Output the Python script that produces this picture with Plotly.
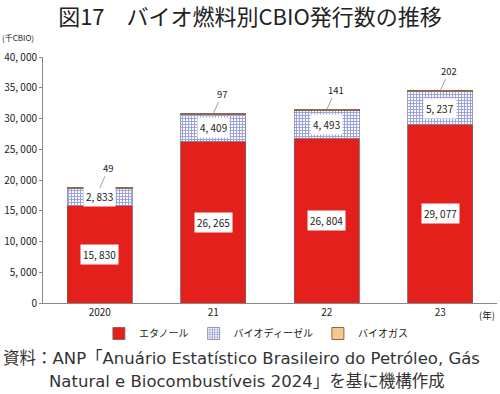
import plotly.graph_objects as go

years = ["2020", "21", "22", "23"]
ethanol = [15830, 26265, 26804, 29077]
biodiesel = [2833, 4409, 4493, 5237]
biogas = [49, 97, 141, 202]
series_names = ["エタノール", "バイオディーゼル", "バイオガス"]
y_ticks = [0, 5000, 10000, 15000, 20000, 25000, 30000, 35000, 40000]

def fmt(v):
    return f"{v:,}".replace(",", ", ")

xpos = list(range(len(years)))
FONT = "Noto Sans CJK JP"
SRC_FONT = "DejaVu Sans, Noto Sans CJK JP"
fig = go.Figure()
fig.add_trace(go.Bar(x=xpos, y=ethanol, name=series_names[0], width=0.57,
                     marker=dict(color="#E3201B", line=dict(color="#7a5a50", width=0.8))))
fig.add_trace(go.Bar(x=xpos, y=biodiesel, name=series_names[1], width=0.57,
                     marker=dict(color="white", line=dict(color="#8a8a9a", width=0.8),
                                 pattern=dict(shape="+", fgcolor="#3a4ab8", bgcolor="white",
                                              size=3, solidity=0.6))))
fig.add_trace(go.Bar(x=xpos, y=biogas, name=series_names[2], width=0.57,
                     marker=dict(color="#F6C98A", line=dict(color="#8a6a50", width=1))))

ann = []
for i in xpos:
    e, b, g = ethanol[i], biodiesel[i], biogas[i]
    ann.append(dict(x=i, y=e / 2, text=fmt(e), showarrow=False, bgcolor="white",
                    borderpad=2, font=dict(size=10, color="#222", family=FONT)))
    ann.append(dict(x=i, y=e + b / 2, text=fmt(b), showarrow=False, bgcolor="white",
                    borderpad=2, font=dict(size=10, color="#222", family=FONT)))
    ann.append(dict(x=i, y=e + b + g, text=fmt(g), showarrow=True, arrowhead=0,
                    arrowwidth=0.8, arrowcolor="#888", ax=9, ay=-20,
                    font=dict(size=9.5, color="#222", family=FONT)))

ann.append(dict(xref="paper", yref="paper", x=0.0, y=1.0, xshift=-43, yshift=12,
                xanchor="left", yanchor="bottom", text="(千CBIO)", showarrow=False,
                font=dict(size=8, color="#222", family=FONT)))
ann.append(dict(xref="paper", yref="paper", x=1.0, y=0, xshift=0, yshift=-12,
                xanchor="right", yanchor="middle", text="(年)", showarrow=False,
                font=dict(size=9.5, color="#222", family=FONT)))
ann.append(dict(xref="paper", yref="paper", x=0, y=0, xshift=-42, yshift=-55,
                xanchor="left", yanchor="middle",
                text="資料：ANP「Anuário Estatístico Brasileiro do Petróleo, Gás",
                showarrow=False, font=dict(size=16.5, color="#333", family=SRC_FONT)))
ann.append(dict(xref="paper", yref="paper", x=0, y=0, xshift=4, yshift=-78,
                xanchor="left", yanchor="middle",
                text="Natural e Biocombustíveis 2024」を基に機構作成",
                showarrow=False, font=dict(size=16.5, color="#333", family=SRC_FONT)))

fig.update_layout(
    width=500, height=394, barmode="stack",
    paper_bgcolor="white", plot_bgcolor="white",
    margin=dict(l=43, r=3, t=57, b=91, autoexpand=False),
    title=dict(text="図17　バイオ燃料別CBIO発行数の推移", x=0.5, xanchor="center",
               y=0.955, yanchor="middle", automargin=False,
               font=dict(size=22, color="#222", family=FONT)),
    font=dict(family=FONT, color="#222"),
    legend=dict(orientation="h", x=0.47, xanchor="center", y=-0.065, yanchor="top",
                font=dict(size=10, family=FONT), itemwidth=30, traceorder="normal"),
    annotations=ann,
    showlegend=True,
)
fig.update_yaxes(range=[0, 40000], tickvals=y_ticks, ticktext=[fmt(v) for v in y_ticks],
                 showgrid=False, showline=True, linecolor="#888", linewidth=1,
                 ticks="outside", ticklen=3, tickcolor="#888", zeroline=False,
                 tickfont=dict(size=10, color="#222", family=FONT))
fig.update_xaxes(range=[-0.5, len(years) - 0.5], tickvals=xpos, ticktext=years,
                 showline=True, linecolor="#888", linewidth=1, ticks="",
                 showgrid=False, zeroline=False,
                 tickfont=dict(size=10, color="#222", family=FONT))

fig.write_html("out.html", config={"displayModeBar": False},
               post_script="document.body.style.margin='0';")
